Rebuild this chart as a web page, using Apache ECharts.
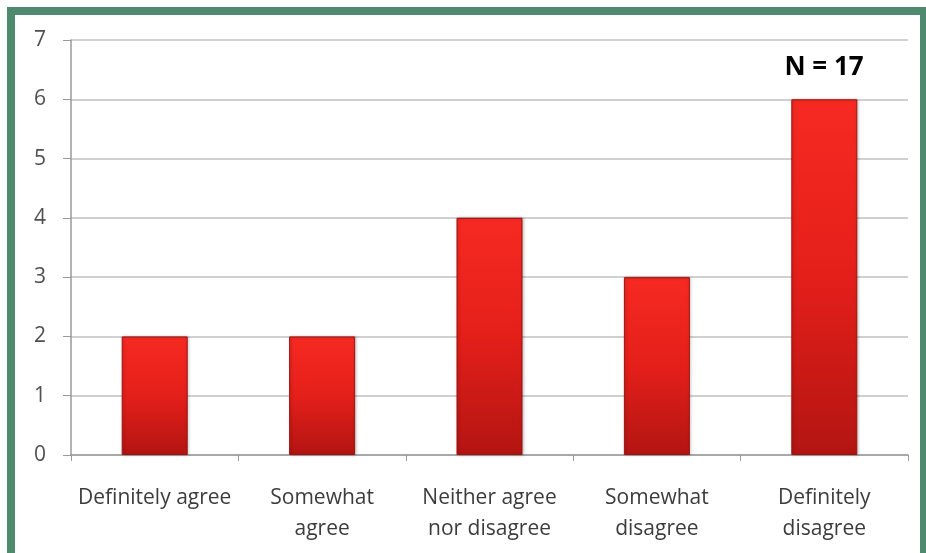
<!DOCTYPE html>
<html>
<head>
<meta charset="utf-8">
<script src="https://cdn.jsdelivr.net/npm/echarts@6/dist/echarts.min.js"></script>
<style>
  html, body { margin: 0; padding: 0; background: #ffffff; }
  #frame {
    position: absolute; left: 7px; top: 7px; width: 921px; height: 546px;
    border-left: 8px solid #4f8a6e; border-top: 8px solid #4f8a6e; border-right: 8px solid #4f8a6e;
    box-sizing: border-box;
  }
  #chart { position: absolute; left: 0; top: 0; width: 926px; height: 553px; }
</style>
</head>
<body>
<div id="chart"></div>
<div id="frame"></div>
<script>
// Survey responses (count of respondents per answer)
const categories = [
  'Definitely agree',
  'Somewhat\nagree',
  'Neither agree\nnor disagree',
  'Somewhat\ndisagree',
  'Definitely\ndisagree'
];
const counts = [2, 2, 4, 3, 6];
const yTicks = [0, 1, 2, 3, 4, 5, 6, 7];
const sampleNote = 'N = 17';

const chart = echarts.init(document.getElementById('chart'));

const barFill = new echarts.graphic.LinearGradient(0, 0, 0, 1, [
  { offset: 0, color: '#f62a22' },
  { offset: 0.5, color: '#e41f1a' },
  { offset: 1, color: '#b31512' }
]);

chart.setOption({
  backgroundColor: '#ffffff',
  animation: false,
  grid: { left: 71, right: 18, top: 40, bottom: 98 },
  title: {
    text: sampleNote,
    left: 819, top: 50, textAlign: 'center',
    textStyle: { fontFamily: 'Open Sans', fontWeight: 'bold', fontSize: 26, color: '#000000' }
  },
  xAxis: {
    type: 'category',
    data: categories,
    axisLine: { lineStyle: { color: '#9a9a9a', width: 1.5 } },
    axisTick: { show: true, length: 6, lineStyle: { color: '#9a9a9a' } },
    axisLabel: {
      fontFamily: 'Open Sans', fontSize: 21, color: '#3c3c3c',
      lineHeight: 31, margin: 28, interval: 0
    }
  },
  yAxis: {
    type: 'value',
    min: yTicks[0],
    max: yTicks[yTicks.length - 1],
    interval: 1,
    axisLine: { show: true, lineStyle: { color: '#9a9a9a', width: 1.5 } },
    axisTick: { show: true, length: 8, lineStyle: { color: '#9a9a9a' } },
    axisLabel: { fontFamily: 'Open Sans', fontSize: 21, color: '#505050', margin: 25 },
    splitLine: { lineStyle: { color: '#d0d0d0', width: 2 } }
  },
  series: [{
    type: 'bar',
    data: counts,
    barWidth: 66,
    itemStyle: {
      color: barFill,
      borderColor: '#9e1410',
      borderWidth: 1,
      shadowColor: 'rgba(0,0,0,0.25)',
      shadowBlur: 3,
      shadowOffsetX: 1
    }
  }]
});
</script>
</body>
</html>
